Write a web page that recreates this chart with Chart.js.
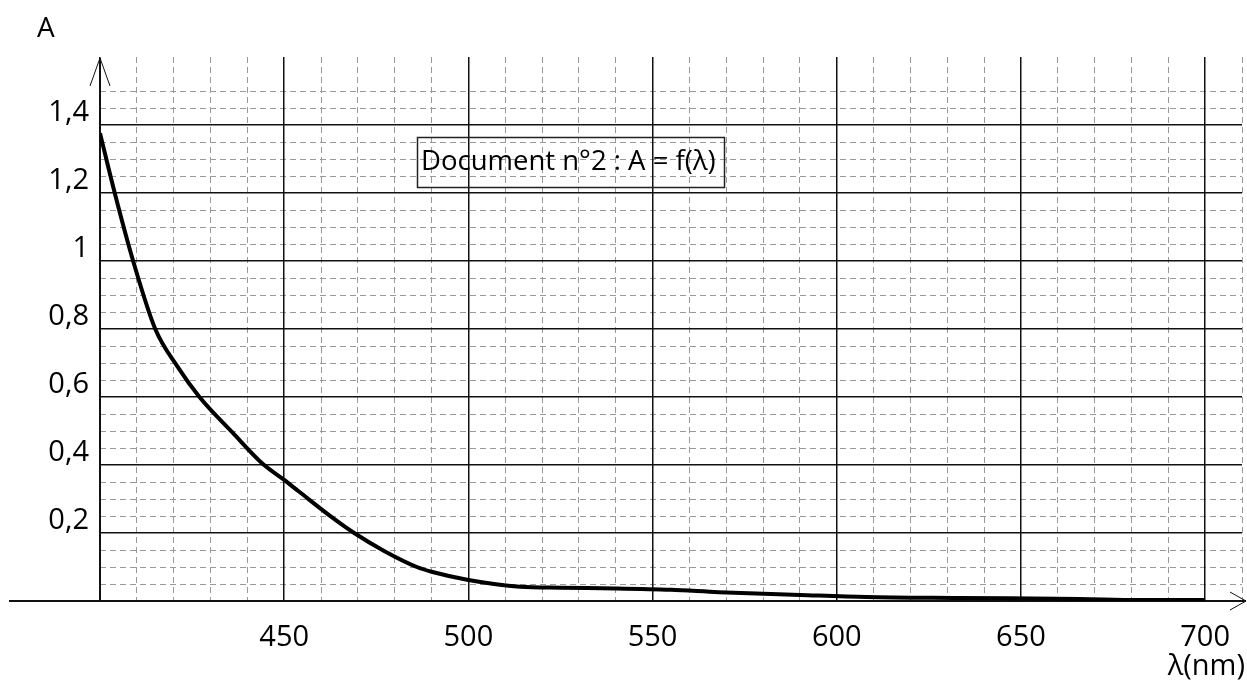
<!DOCTYPE html>
<html>
<head>
<meta charset="utf-8">
<script src="https://cdn.jsdelivr.net/npm/chart.js@4.4.1/dist/chart.umd.min.js"></script>
<style>
  html, body { margin: 0; padding: 0; background: #fff; }
  #wrap { width: 1247px; height: 693px; position: relative; }
</style>
</head>
<body>
<div id="wrap"><canvas id="absChart"></canvas></div>
<script>
var wavelengths = [400, 404, 409, 415, 421, 427, 436, 444, 450, 454, 463, 469, 477, 486, 490, 500, 514, 525, 540, 555, 568, 590, 608, 633, 666, 682, 700];
var absorbance = [1.376, 1.20, 1.00, 0.80, 0.69, 0.60, 0.495, 0.405, 0.356, 0.322, 0.246, 0.20, 0.148, 0.10, 0.086, 0.062, 0.042, 0.039, 0.037, 0.033, 0.026, 0.018, 0.012, 0.009, 0.006, 0.003, 0.003];

var xMajorTicks = [400, 450, 500, 550, 600, 650, 700];
var xLabels = ['', '450', '500', '550', '600', '650', '700'];
var xMinorTicks = [410, 420, 430, 440, 460, 470, 480, 490, 510, 520, 530, 540, 560, 570, 580, 590,
                   610, 620, 630, 640, 660, 670, 680, 690, 710];
var yMajorTicks = [0.2, 0.4, 0.6, 0.8, 1.0, 1.2, 1.4];
var yLabels = ['0,2', '0,4', '0,6', '0,8', '1', '1,2', '1,4'];
var yMinorTicks = [0.05, 0.1, 0.15, 0.25, 0.3, 0.35, 0.45, 0.5, 0.55, 0.65, 0.7, 0.75, 0.85, 0.9, 0.95,
                   1.05, 1.1, 1.15, 1.25, 1.3, 1.35, 1.45, 1.5];

var FONT = '"Open Sans", sans-serif';

function tickList(arr) {
  return function(scale) { scale.ticks = arr.map(function(v) { return { value: v }; }); };
}

var axesArrows = {
  id: 'axesArrows',
  beforeDatasetsDraw: function(chart) {
    var ctx = chart.ctx;
    var x0 = chart.scales.x.getPixelForValue(400);
    var y0 = chart.scales.y.getPixelForValue(0);
    var top = chart.chartArea.top;
    ctx.save();
    ctx.strokeStyle = '#111';
    ctx.lineWidth = 2;
    ctx.beginPath();
    ctx.moveTo(9, y0); ctx.lineTo(chart.width - 1, y0);
    ctx.moveTo(x0, y0); ctx.lineTo(x0, top + 1);
    ctx.stroke();
    ctx.lineWidth = 1;
    ctx.beginPath();
    ctx.moveTo(x0 - 10, top + 29); ctx.lineTo(x0, top + 1); ctx.lineTo(x0 + 10, top + 29);
    ctx.moveTo(chart.width - 17, y0 - 9); ctx.lineTo(chart.width - 1, y0); ctx.lineTo(chart.width - 17, y0 + 9);
    ctx.stroke();
    ctx.restore();
  },
  afterDraw: function(chart) {
    var ctx = chart.ctx;
    ctx.save();
    ctx.fillStyle = '#000';
    ctx.textBaseline = 'middle';
    ctx.font = '28px ' + FONT;
    ctx.textAlign = 'left';
    ctx.fillText('A', 37, 29);
    ctx.font = '29px ' + FONT;
    ctx.textAlign = 'right';
    ctx.fillText('λ(nm)', 1245, 667);
    // titre encadré
    ctx.font = '27.5px ' + FONT;
    ctx.textAlign = 'left';
    ctx.fillText('Document n°2 : A = f(λ)', 421, 162);
    ctx.strokeStyle = '#222';
    ctx.lineWidth = 1.5;
    ctx.strokeRect(417.5, 137.5, 307, 50);
    ctx.restore();
  }
};

var absCtx = document.getElementById('absChart').getContext('2d');
var absChart = new Chart(absCtx, {
  type: 'line',
  data: {
    datasets: [{
      label: 'A',
      data: wavelengths.map(function(w, i) { return { x: w, y: absorbance[i] }; }),
      borderColor: '#000',
      borderWidth: 4,
      pointRadius: 0,
      fill: false,
      cubicInterpolationMode: 'monotone',
      xAxisID: 'x',
      yAxisID: 'y'
    }]
  },
  options: {
    responsive: true,
    maintainAspectRatio: false,
    animation: false,
    layout: { padding: { top: 57, right: 5, left: 0, bottom: 0 } },
    plugins: { legend: { display: false }, tooltip: { enabled: false } },
    scales: {
      x: {
        type: 'linear', min: 400, max: 710, position: 'bottom',
        afterBuildTicks: tickList(xMajorTicks),
        afterFit: function(s) { s.height = 92; s.paddingLeft = 0; s.paddingRight = 0; },
        ticks: {
          autoSkip: false, maxRotation: 0, padding: 19, color: '#000',
          font: { family: FONT, size: 29 },
          callback: function(v) { return xLabels[xMajorTicks.indexOf(v)]; }
        },
        grid: { color: '#111', lineWidth: 1.5, drawTicks: false, z: -1 },
        border: { display: false }
      },
      x2: {
        type: 'linear', min: 400, max: 710, position: 'bottom',
        afterBuildTicks: tickList(xMinorTicks),
        afterFit: function(s) { s.height = 0; s.paddingLeft = 0; s.paddingRight = 0; },
        ticks: { display: false },
        grid: { color: '#999', lineWidth: 1, drawTicks: false, z: -2 },
        border: { display: false, dash: [6, 4] }
      },
      y: {
        type: 'linear', min: 0, max: 1.6, position: 'left',
        afterBuildTicks: tickList(yMajorTicks),
        afterFit: function(s) { s.width = 100; s.paddingTop = 0; s.paddingBottom = 0; },
        ticks: {
          autoSkip: false, padding: 11, labelOffset: -12, color: '#000',
          font: { family: FONT, size: 29 },
          callback: function(v) { return yLabels[yMajorTicks.indexOf(v)]; }
        },
        grid: { color: '#111', lineWidth: 1.5, drawTicks: false, z: -1 },
        border: { display: false }
      },
      y2: {
        type: 'linear', min: 0, max: 1.6, position: 'left',
        afterBuildTicks: tickList(yMinorTicks),
        afterFit: function(s) { s.width = 0; s.paddingTop = 0; s.paddingBottom = 0; },
        ticks: { display: false },
        grid: { color: '#999', lineWidth: 1, drawTicks: false, z: -2 },
        border: { display: false, dash: [6, 4] }
      }
    }
  },
  plugins: [axesArrows]
});
</script>
</body>
</html>
